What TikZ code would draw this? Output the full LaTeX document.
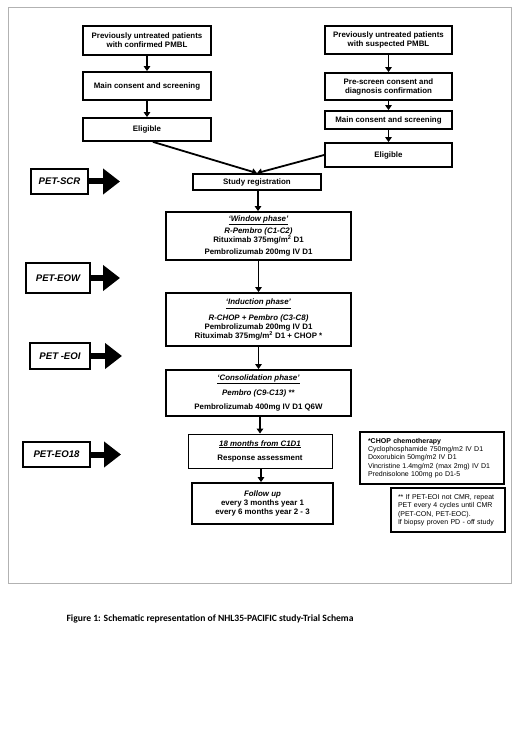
\documentclass[tikz,border=0pt]{standalone}
\usepackage{fontspec}
\setmainfont{Liberation Sans}
\newfontfamily\capfont{Carlito}
\usetikzlibrary{arrows.meta, positioning}

\tikzset{
	flowbox/.style={draw, line width=1.8pt, fill=white, align=center, inner sep=0pt, font=\bfseries\fontsize{7.9}{9}\selectfont},
	petbox/.style={draw, line width=1.8pt, fill=white, inner sep=0pt, font=\bfseries\itshape\fontsize{9.6}{11}\selectfont},
	notebox/.style={draw, line width=1.8pt, fill=white, align=left, inner ysep=0pt, font=\fontsize{7}{8.4}\selectfont},
	flowarrow/.style={line width=1.8pt, -{Triangle[length=5pt,width=6.5pt]}},
	petarrow/.style={line width=6pt, -{Triangle[length=17pt,width=25pt]}},
}

\begin{document}
\begin{tikzpicture}[x=1pt, y=-1pt]
		\useasboundingbox (0,0) rectangle (520,735);
\draw[black!30, line width=1pt] (8.5,7.5) rectangle (511,583);

\node[flowbox, minimum width=128, minimum height=29] (top1) at (147,40.5) {Previously untreated patients\\with confirmed PMBL};
\node[flowbox, minimum width=128, minimum height=28] (consent1) at (147,86) {Main consent and screening};
\node[flowbox, minimum width=128, minimum height=23] (elig1) at (147,129.5) {Eligible};

\node[flowbox, minimum width=127, minimum height=28] (top2) at (388.5,40) {Previously untreated patients\\with suspected PMBL};
\node[flowbox, minimum width=127, minimum height=27] (prescr) at (388.5,86.5) {Pre-screen consent and\\diagnosis confirmation};
\node[flowbox, minimum width=127, minimum height=18] (consent2) at (388.5,120) {Main consent and screening};
\node[flowbox, minimum width=127, minimum height=24] (elig2) at (388.5,155) {Eligible};

\node[flowbox, minimum width=128, minimum height=16] (studyreg) at (257,182) {Study registration};
\node[flowbox, minimum width=185, minimum height=48] (window) at (258.5,236) {\underline{\textit{`Window phase'}}\\[1.5pt]\textit{R-Pembro (C1-C2)}\\Rituximab 375mg/m\textsuperscript{2} D1\\[3pt]Pembrolizumab 200mg IV D1};
\node[flowbox, minimum width=185, minimum height=53] (induct) at (258.5,319.5) {\underline{\textit{`Induction phase'}}\\[5pt]\textit{R-CHOP + Pembro (C3-C8)}\\Pembrolizumab 200mg IV D1\\Rituximab 375mg/m\textsuperscript{2} D1 + CHOP *};
\node[flowbox, minimum width=185, minimum height=46] (consol) at (258.5,393) {\underline{\textit{`Consolidation phase'}}\\[5pt]\textit{Pembro (C9-C13) **}\\[5pt]Pembrolizumab 400mg IV D1 Q6W};
\node[flowbox, line width=0.9pt, minimum width=144, minimum height=34] (months) at (260,451) {\underline{\textit{18 months from C1D1}}\\[5pt]Response assessment};
\node[flowbox, minimum width=141, minimum height=41] (follow) at (262.5,503.5) {\textit{Follow up}\\every 3 months year 1\\every 6 months year 2 - 3};

\node[notebox, text width=128, inner xsep=8pt, minimum height=52] (chop) at (432,458) {\textbf{*CHOP chemotherapy}\\Cyclophosphamide 750mg/m2 IV D1\\Doxorubicin 50mg/m2 IV D1\\Vincristine 1.4mg/m2 (max 2mg) IV D1\\Prednisolone 100mg po D1-5};
\node[notebox, text width=100, inner xsep=7pt, minimum height=44] (note) at (448,510) {** If PET-EOI not CMR, repeat\\PET every 4 cycles until CMR\\(PET-CON, PET-EOC).\\If biopsy proven PD - off study};

\node[petbox, minimum width=57, minimum height=25] (petscr) at (59.5,181.5) {PET-SCR};
\node[petbox, minimum width=64, minimum height=30] (peteow) at (58,278) {PET-EOW};
\node[petbox, minimum width=60, minimum height=26] (peteoi) at (60,356) {PET -EOI};
\node[petbox, minimum width=67, minimum height=25] (peteo18) at (56.5,454.5) {PET-EO18};

\coordinate (scrtip) at (120,181.5);
\coordinate (eowtip) at (120,278);
\coordinate (eoitip) at (122,356);
\coordinate (eo18tip) at (121,454.5);

\draw[petarrow] (petscr) -- (scrtip);
\draw[petarrow] (peteow) -- (eowtip);
\draw[petarrow] (peteoi) -- (eoitip);
\draw[petarrow] (peteo18) -- (eo18tip);

\draw[flowarrow] (top1) -- (consent1);
\draw[flowarrow] (consent1) -- (elig1);
\draw[flowarrow] (top2) -- (prescr);
\draw[flowarrow] (prescr) -- (consent2);
\draw[flowarrow] (consent2) -- (elig2);

\draw[flowarrow] ([xshift=6pt]elig1.south) -- (studyreg.north);
\draw[flowarrow] (elig2.west) -- (studyreg.north);

\draw[flowarrow] ([xshift=1pt]studyreg.south) -- ([xshift=1pt]studyreg.south |- window.north);
\draw[flowarrow] (window.south) -- (window.south |- induct.north);
\draw[flowarrow] (induct.south) -- (induct.south |- consol.north);
\draw[flowarrow] ([xshift=1.5pt]consol.south) -- ([xshift=1.5pt]consol.south |- months.north);
\draw[flowarrow] ([xshift=1pt]months.south) -- ([xshift=1pt]months.south |- follow.north);

\node[anchor=west, font=\capfont\bfseries\fontsize{9.6}{11}\selectfont] (caption) at (63,619) {Figure 1: Schematic representation of NHL35-PACIFIC study-Trial Schema};
	\end{tikzpicture}
\end{document}
